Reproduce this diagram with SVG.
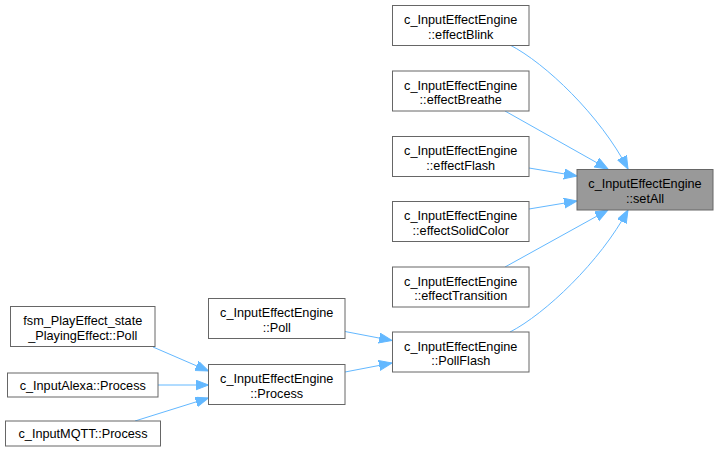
<svg xmlns="http://www.w3.org/2000/svg" width="719" height="452" viewBox="0 0 719 452">
<defs>
<marker id="ah" markerUnits="userSpaceOnUse" markerWidth="14" markerHeight="11" refX="13" refY="5" orient="auto">
<path d="M0,0 L13,5 L0,10 z" fill="#63b8ff" stroke="#63b8ff" stroke-width="1"/>
</marker>
<style>
.n rect{fill:#ffffff;stroke:#666666;stroke-width:1}
.n.hl rect{fill:#999999}
.n text{font-family:"Liberation Sans",Arial,Helvetica,sans-serif;font-size:12.7px;fill:#000000;text-anchor:middle}
.e path{fill:none;stroke:#63b8ff;stroke-width:1;marker-end:url(#ah)}
</style>
</defs>
<rect width="719" height="452" fill="#ffffff"/>
<g id="edges" class="e">
<path d="M510,45 C545,63 600,115 628,169"/>
<path d="M505,111 L608,169"/>
<path d="M529,168 L577,176"/>
<path d="M529,209 L577,201"/>
<path d="M505,267 L608,210"/>
<path d="M510,332 C545,314 600,262 628,210"/>
<path d="M345,331.5 L392,340.5"/>
<path d="M345,372 L392,363"/>
<path d="M153,347 L208.5,371"/>
<path d="M158,385 L208.5,385"/>
<path d="M135,421 L208.5,398"/>
</g>
<g id="setAll" class="n hl">
<rect x="577" y="169.5" width="136" height="40.5"/>
<text x="645" y="188">c_InputEffectEngine</text>
<text x="645" y="202.5">::setAll</text>
</g>
<g id="effectBlink" class="n">
<rect x="392.5" y="5.5" width="136.5" height="40"/>
<text x="460.75" y="24">c_InputEffectEngine</text>
<text x="460.75" y="38.5">::effectBlink</text>
</g>
<g id="effectBreathe" class="n">
<rect x="392.5" y="71" width="136.5" height="40"/>
<text x="460.75" y="89.5">c_InputEffectEngine</text>
<text x="460.75" y="104">::effectBreathe</text>
</g>
<g id="effectFlash" class="n">
<rect x="392.5" y="136.5" width="136.5" height="40"/>
<text x="460.75" y="155">c_InputEffectEngine</text>
<text x="460.75" y="169.5">::effectFlash</text>
</g>
<g id="effectSolidColor" class="n">
<rect x="392.5" y="201.5" width="136.5" height="40"/>
<text x="460.75" y="220">c_InputEffectEngine</text>
<text x="460.75" y="234.5">::effectSolidColor</text>
</g>
<g id="effectTransition" class="n">
<rect x="392.5" y="267" width="136.5" height="40"/>
<text x="460.75" y="285.5">c_InputEffectEngine</text>
<text x="460.75" y="300">::effectTransition</text>
</g>
<g id="PollFlash" class="n">
<rect x="392.5" y="332" width="136.5" height="40"/>
<text x="460.75" y="350.5">c_InputEffectEngine</text>
<text x="460.75" y="365">::PollFlash</text>
</g>
<g id="Poll" class="n">
<rect x="208.5" y="298.5" width="136.5" height="40"/>
<text x="276.75" y="317">c_InputEffectEngine</text>
<text x="276.75" y="331.5">::Poll</text>
</g>
<g id="Process" class="n">
<rect x="208.5" y="364.5" width="136.5" height="40"/>
<text x="276.75" y="383">c_InputEffectEngine</text>
<text x="276.75" y="397.5">::Process</text>
</g>
<g id="fsmPoll" class="n">
<rect x="10.5" y="306.5" width="144.5" height="40"/>
<text x="82.75" y="325">fsm_PlayEffect_state</text>
<text x="82.75" y="339.5">_PlayingEffect::Poll</text>
</g>
<g id="AlexaProcess" class="n">
<rect x="7.5" y="373" width="150.5" height="24"/>
<text x="82.75" y="389.5">c_InputAlexa::Process</text>
</g>
<g id="MQTTProcess" class="n">
<rect x="5.5" y="421" width="155" height="25"/>
<text x="83" y="438">c_InputMQTT::Process</text>
</g>
</svg>
